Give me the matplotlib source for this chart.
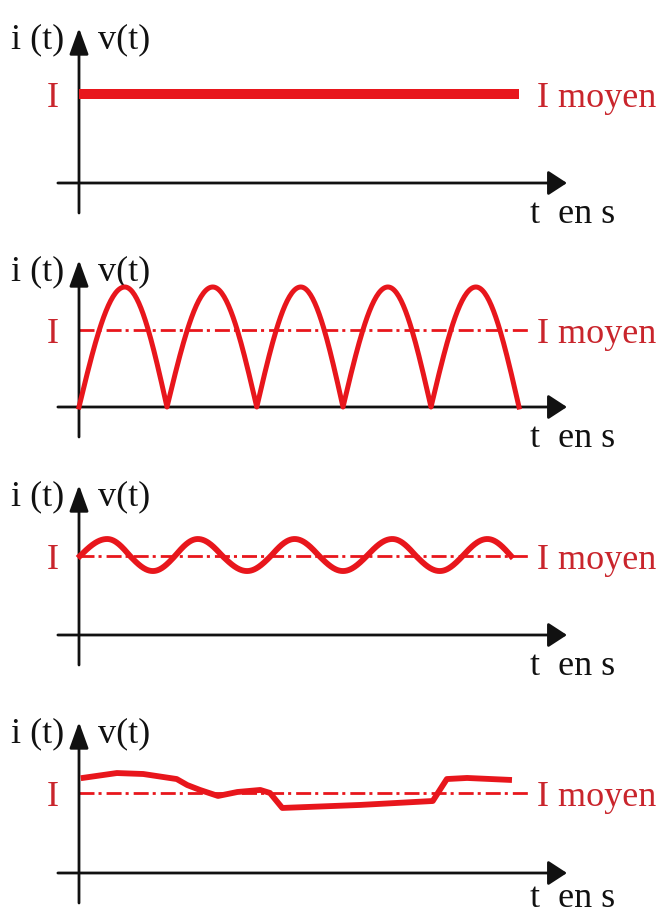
import numpy as np
import matplotlib
matplotlib.use("Agg")
import matplotlib.pyplot as plt

plt.rcParams["font.family"] = ["Liberation Serif", "DejaVu Serif"]
plt.rcParams["lines.scale_dashes"] = False

# ── Data (t in periods of the rectified wave, values in current units) ──────
DC_T = [0.0, 5.0]
DC_V = [0.74, 0.74]

# full-wave rectified: zero / peak points
RECT_T = [0.0, 0.52, 1.0, 1.52, 2.02, 2.52, 3.0, 3.51, 4.0, 4.51, 5.0]
RECT_V = [0.0, 1.0, 0.0, 1.0, 0.0, 1.0, 0.0, 1.0, 0.0, 1.0, 0.0]
RECT_MEAN = 0.64

# filtered (ripple): crossings / extrema
RIPPLE_T = [0.01, 0.32, 0.58, 0.84, 1.09, 1.35, 1.63, 1.91, 2.18, 2.45,
            2.73, 3.00, 3.27, 3.56, 3.83, 4.10, 4.36, 4.64, 4.91]
RIPPLE_V = [0.658, 0.80, 0.658, 0.533, 0.658, 0.80, 0.658, 0.533, 0.658, 0.80,
            0.658, 0.533, 0.658, 0.80, 0.658, 0.533, 0.658, 0.80, 0.658]
RIPPLE_MEAN = 0.658

# irregular signal, hand-drawn
NOISY_T = [0.02, 0.43, 0.73, 1.11, 1.23, 1.375, 1.58, 1.80, 2.06, 2.17,
           2.31, 3.19, 4.02, 4.10, 4.18, 4.41, 4.92]
NOISY_V = [0.79, 0.833, 0.825, 0.783, 0.733, 0.692, 0.642, 0.675, 0.692, 0.667,
           0.542, 0.567, 0.60, 0.692, 0.783, 0.792, 0.775]
NOISY_MEAN = 0.667

# ── Layout (pixels) ─────────────────────────────────────────────────────────
W, H = 666, 917
SX, SY = 88.0, 120.0          # px per time unit / per value unit
ORIGIN_X = 79
BOUNDS = [(0, 230), (230, 460), (460, 690), (690, 917)]
ORIGIN_Y = [183, 407, 635, 873]
TIP_Y = [28, 260, 485, 722]

RED = "#e8161c"
RED_TXT = "#c9252c"
K = "#111111"
FS = 26


def wave(keys_t, keys_v, n=40):
    """quarter-sine segments between alternating crossings and extrema"""
    ts, vs = [], []
    for i in range(len(keys_t) - 1):
        s = np.linspace(0, 1, n)
        t0, t1, v0, v1 = keys_t[i], keys_t[i + 1], keys_v[i], keys_v[i + 1]
        if i % 2 == 0:
            shape = np.sin(np.pi / 2 * s)
        else:
            shape = 1 - np.cos(np.pi / 2 * s)
        ts.append(t0 + (t1 - t0) * s)
        vs.append(v0 + (v1 - v0) * shape)
    return np.concatenate(ts), np.concatenate(vs)


fig = plt.figure(figsize=(W / 100, H / 100), dpi=100, facecolor="white")

axes = []
for (top, bot), oy in zip(BOUNDS, ORIGIN_Y):
    ax = fig.add_axes([0, 1 - bot / H, 1, (bot - top) / H])
    ax.set_xlim(-ORIGIN_X / SX, (W - ORIGIN_X) / SX)
    ax.set_ylim((oy - bot) / SY, (oy - top) / SY)
    ax.axis("off")
    axes.append(ax)

for ax, oy, tip in zip(axes, ORIGIN_Y, TIP_Y):
    tip_v = (oy - tip) / SY
    # y axis
    ax.annotate("", xy=(0, tip_v), xytext=(0, -0.25),
                arrowprops=dict(arrowstyle="-|>,head_length=16,head_width=5.8",
                                mutation_scale=1, lw=2, color=K,
                                shrinkA=0, shrinkB=0))
    # x axis
    ax.annotate("", xy=(5.545, 0), xytext=(-0.24, 0),
                arrowprops=dict(arrowstyle="-|>,head_length=11.5,head_width=7.5",
                                mutation_scale=1, lw=2, color=K,
                                shrinkA=0, shrinkB=0))
    ax.text(-0.47, tip_v - 20 / SY, "i (t)", ha="center", va="baseline",
            fontsize=FS, color=K)
    ax.text(0.51, tip_v - 20 / SY, "v(t)", ha="center", va="baseline",
            fontsize=FS, color=K)
    base_px = min(oy + 40, H - 10)
    ax.text(5.125, (oy - base_px) / SY, "t  en s", ha="left", va="baseline",
            fontsize=FS, color=K)

means = [DC_V[0], RECT_MEAN, RIPPLE_MEAN, NOISY_MEAN]
for i, (ax, m) in enumerate(zip(axes, means)):
    if i > 0:
        ax.plot([0, 5.125], [m, m], color=RED, lw=2,
                dashes=(10.8, 2.9, 2.2, 3.6), zorder=2)
    ax.text(-0.30, m - 13 / SY, "I", ha="center", va="baseline",
            fontsize=FS, color=RED_TXT)
    ax.text(5.2, m - 13 / SY, "I moyen", ha="left", va="baseline",
            fontsize=FS, color=RED_TXT)

# signals
axes[0].plot(DC_T, DC_V, color=RED, lw=7.2, solid_capstyle="butt", zorder=3)

t, v = wave(RECT_T, RECT_V)
axes[1].plot(t, v, color=RED, lw=3.6, solid_joinstyle="round", zorder=3)

t, v = wave(RIPPLE_T, RIPPLE_V)
axes[2].plot(t, v, color=RED, lw=4.2, solid_joinstyle="round", zorder=3)

axes[3].plot(NOISY_T, NOISY_V, color=RED, lw=4.2, solid_joinstyle="round",
             solid_capstyle="butt", zorder=3)

fig.savefig("out.png", dpi=100, facecolor="white")
